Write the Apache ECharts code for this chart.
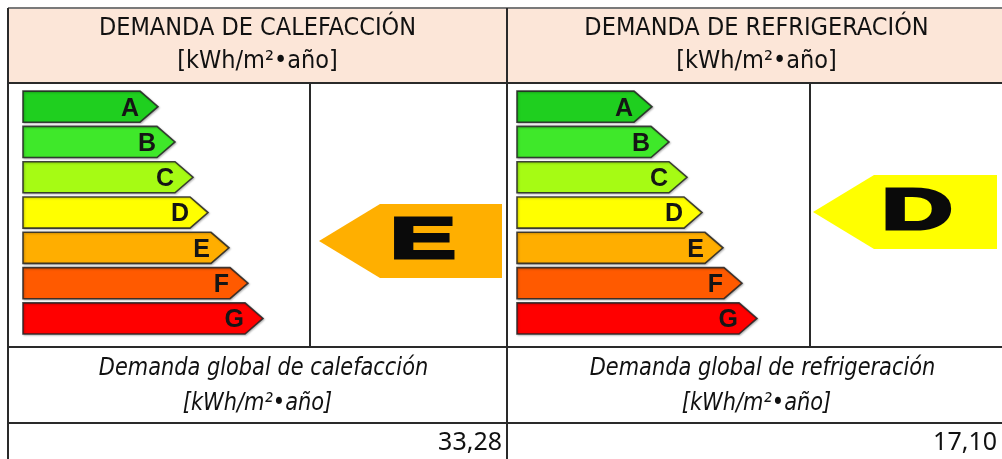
<!DOCTYPE html>
<html>
<head>
<meta charset="utf-8">
<script src="https://cdn.jsdelivr.net/npm/echarts@6/dist/echarts.min.js"></script>
<style>
html,body{margin:0;padding:0;background:#fff;}
#chart{width:1002px;height:459px;}
</style>
</head>
<body>
<div id="chart"></div>
<script>
// ---- data ----
const ratings = ['A', 'B', 'C', 'D', 'E', 'F', 'G'];
const scaleBarLengths = [135, 152, 170, 185, 206, 225, 240];
const ratingColors = ['#1fcf1f', '#3fe82a', '#a6fb14', '#ffff00', '#ffae00', '#ff5a00', '#ff0000'];
const titles = ['DEMANDA DE CALEFACCIÓN', 'DEMANDA DE REFRIGERACIÓN'];
const unitLabel = '[kWh/m²•año]';
const footers = ['Demanda global de calefacción', 'Demanda global de refrigeración'];
const results = ['E', 'D'];
const demandValues = [33.28, 17.10];

// ---- layout ----
const panelOffset = 499;
const lineColor = '#2a2a2a';
const headFont = '"DejaVu Sans Condensed", "Liberation Sans", sans-serif';
const valFont = '"Noto Sans", "Open Sans", sans-serif';

function fmt(v) { return v.toFixed(2).replace('.', ','); }

function scaleRender(params, api) {
  const idx = api.value(1);
  const tip = api.coord([api.value(0), idx]);
  const start = api.coord([0, idx]);
  const band = api.size([0, 1])[1];
  const bh = band * 0.88;
  const d = 18;
  const cy = tip[1];
  const top = cy - bh / 2, bot = cy + bh / 2;
  return {
    type: 'group',
    children: [
      {
        type: 'polygon',
        shape: { points: [[start[0], top], [tip[0] - d, top], [tip[0], cy], [tip[0] - d, bot], [start[0], bot]] },
        style: { fill: ratingColors[idx], stroke: 'rgba(35,35,35,0.85)', lineWidth: 1.6,
                 shadowColor: 'rgba(0,0,0,0.25)', shadowBlur: 2, shadowOffsetX: 1, shadowOffsetY: 1 }
      },
      {
        type: 'text',
        x: tip[0] - d - 1, y: cy + 2,
        style: { text: ratings[idx], fill: '#151515', align: 'right', verticalAlign: 'middle',
                 font: 'bold 25px "Liberation Sans", Arial, sans-serif' }
      }
    ]
  };
}

function indicatorRender(params, api) {
  const idx = api.value(1);
  const tip = api.coord([0, idx]);
  const end = api.coord([api.value(0), idx]);
  const band = api.size([0, 1])[1];
  const h = band * 2.1;
  const cy = tip[1];
  const sh = tip[0] + 61;
  return {
    type: 'group',
    children: [
      {
        type: 'polygon',
        shape: { points: [[tip[0], cy], [sh, cy - h / 2], [end[0], cy - h / 2], [end[0], cy + h / 2], [sh, cy + h / 2]] },
        style: { fill: ratingColors[idx] === '#ffae00' ? '#ffaf00' : ratingColors[idx] }
      },
      {
        type: 'text',
        x: tip[0] + 104, y: cy + 1,
        scaleX: 1.7,
        style: { text: ratings[idx], fill: '#0a0a0a', stroke: '#0a0a0a', lineWidth: 3,
                 align: 'center', verticalAlign: 'middle',
                 font: 'bold 58px "Liberation Sans", Arial, sans-serif' }
      }
    ]
  };
}

const grids = [], xAxes = [], yAxes = [], series = [], graphics = [];
const bandH = 35.3;
const indicatorCenters = [241, 212];
const indicatorLeft = [319, 813];
const indicatorWidth = [183, 184];

for (let k = 0; k < 2; k++) {
  // scale bars grid
  grids.push({ left: 23 + k * 494, top: 89, width: 240, height: bandH * 7 });
  xAxes.push({ type: 'value', gridIndex: 2 * k, min: 0, max: 240, show: false });
  yAxes.push({ type: 'category', gridIndex: 2 * k, data: ratings, inverse: true, show: false });
  series.push({
    type: 'custom', xAxisIndex: 2 * k, yAxisIndex: 2 * k, renderItem: scaleRender, silent: true,
    data: ratings.map((r, i) => [scaleBarLengths[i], r])
  });
  // indicator grid
  const ri = ratings.indexOf(results[k]);
  grids.push({ left: indicatorLeft[k], top: indicatorCenters[k] - (ri + 0.5) * bandH, width: indicatorWidth[k], height: bandH * 7 });
  xAxes.push({ type: 'value', gridIndex: 2 * k + 1, min: 0, max: 1, show: false });
  yAxes.push({ type: 'category', gridIndex: 2 * k + 1, data: ratings, inverse: true, show: false });
  series.push({
    type: 'custom', xAxisIndex: 2 * k + 1, yAxisIndex: 2 * k + 1, renderItem: indicatorRender, silent: true,
    data: [[1, results[k]]]
  });

  const ox = k * panelOffset;
  const cx = 257.5 + ox;
  graphics.push(
    { type: 'text', x: cx, y: 28, style: { text: titles[k], fill: '#111', align: 'center', verticalAlign: 'middle', font: '25px ' + headFont } },
    { type: 'text', x: cx, y: 61, style: { text: unitLabel, fill: '#111', align: 'center', verticalAlign: 'middle', font: '25px ' + headFont } },
    { type: 'text', x: cx + 6, y: 368, scaleX: 0.93, style: { text: footers[k], fill: '#111', align: 'center', verticalAlign: 'middle', font: 'italic 25px ' + headFont } },
    { type: 'text', x: cx, y: 403, scaleX: 0.93, style: { text: unitLabel, fill: '#111', align: 'center', verticalAlign: 'middle', font: 'italic 25px ' + headFont } },
    { type: 'text', x: 502 + k * 495, y: 443, style: { text: fmt(demandValues[k]), fill: '#111', align: 'right', verticalAlign: 'middle', font: '25px ' + valFont } }
  );
}

// table background and lines
graphics.unshift({ type: 'rect', z: -10, shape: { x: 8, y: 8, width: 1000, height: 75 }, style: { fill: '#fce6d8' } });
const hLines = [[8, 8, 1002, '#7a7a7a'], [83, 8, 1002, lineColor], [347, 8, 1002, lineColor], [423, 8, 1002, lineColor]];
hLines.forEach(l => graphics.push({ type: 'line', shape: { x1: l[1], y1: l[0], x2: l[2], y2: l[0] }, style: { stroke: l[3], lineWidth: 2 } }));
const vLines = [[8, 8, 459], [507, 8, 459], [310, 83, 347], [810, 83, 347]];
vLines.forEach(l => graphics.push({ type: 'line', shape: { x1: l[0], y1: l[1], x2: l[0], y2: l[2] }, style: { stroke: lineColor, lineWidth: 2 } }));

const chart = echarts.init(document.getElementById('chart'), null, { renderer: 'canvas' });
chart.setOption({
  animation: false,
  backgroundColor: '#ffffff',
  grid: grids,
  xAxis: xAxes,
  yAxis: yAxes,
  series: series,
  graphic: graphics
});
</script>
</body>
</html>
